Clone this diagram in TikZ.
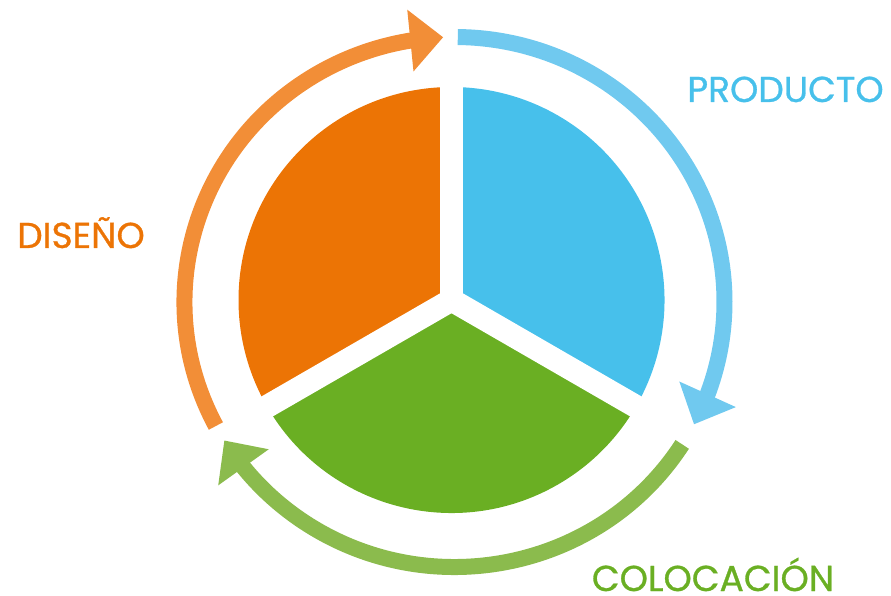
\documentclass[tikz,border=0pt]{standalone}
\usepackage{fontspec}
\setmainfont{Poppins}
\newfontface\lblfont{Poppins}[FakeBold=0.8]
\usetikzlibrary{arrows.meta,bending}
\definecolor{pieO}{HTML}{EC7405}
\definecolor{pieB}{HTML}{47C0EB}
\definecolor{pieG}{HTML}{6AAF23}
\definecolor{arrO}{HTML}{F28E37}
\definecolor{arrB}{HTML}{70C9EF}
\definecolor{arrG}{HTML}{8BBB4D}
\tikzset{
  ring/.style={line width=16bp, line cap=butt, -{Triangle[length=33bp,width=60bp,flex]}},
  gapline/.style={white, line width=23bp, line cap=butt},
  label/.style={font=\lblfont\fontsize{36bp}{40bp}\selectfont, inner sep=0pt, anchor=base, text depth=0pt}
}
\begin{document}
\begin{tikzpicture}[x=1bp,y=1bp]
\useasboundingbox (0,0) rectangle (891,-596);
\coordinate (P) at (451.5,-300);
\coordinate (R) at (454.5,-302);
% pie sectors
\fill[pieB] (P) -- ++(-30:213) arc[start angle=-30, end angle=90, radius=213] -- cycle;
\fill[pieO] (P) -- ++(90:213) arc[start angle=90, end angle=210, radius=213] -- cycle;
\fill[pieG] (P) -- ++(210:213) arc[start angle=210, end angle=330, radius=213] -- cycle;
\draw[gapline] (P) -- ++(90:225);
\draw[gapline] (P) -- ++(210:225);
\draw[gapline] (P) -- ++(330:225);
% ring arrows
\draw[ring, arrO] ([shift={(207.9:270 and 265)}]R) arc[start angle=207.9, end angle=92.4, x radius=270, y radius=265];
\draw[ring, arrB] ([shift={(89.3:270 and 265)}]R) arc[start angle=89.3, end angle=-27.5, x radius=270, y radius=265];
\draw[ring, arrG] ([shift={(-32.5:270 and 265)}]R) arc[start angle=-32.5, end angle=-148.5, x radius=270, y radius=265];
% labels
\node[label, text=pieO] (dis) at (81,-248) {DISEÑO};
\node[label, text=pieB] (pro) at (785.5,-102) {PRODUCTO};
\node[label, text=pieG] (col) at (713,-591) {COLOCACIÓN};
\end{tikzpicture}
\end{document}
